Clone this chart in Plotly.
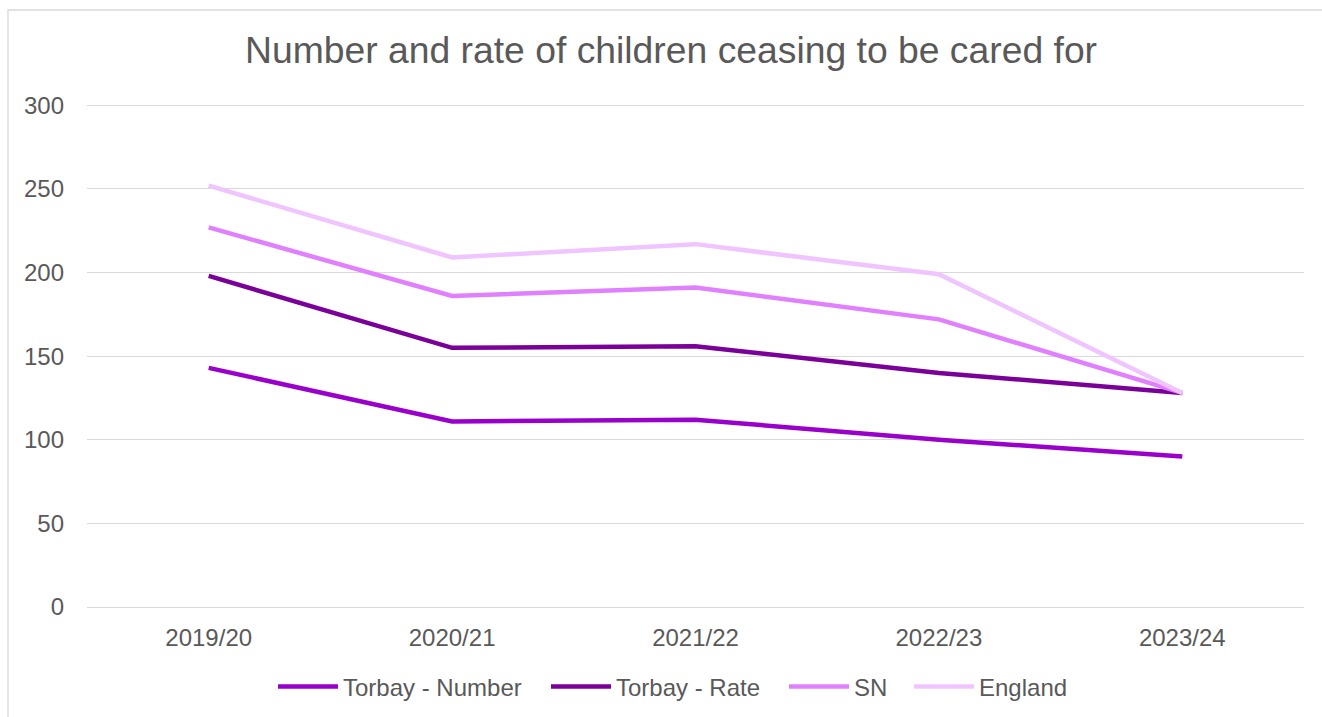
import plotly.graph_objects as go

categories = ["2019/20", "2020/21", "2021/22", "2022/23", "2023/24"]
torbay_number = [143, 111, 112, 100, 90]
torbay_rate = [198, 155, 156, 140, 128]
sn = [227, 186, 191, 172, 128]
england = [252, 209, 217, 199, 128]

series = [
    ("Torbay - Number", torbay_number, "#9900CC"),
    ("Torbay - Rate", torbay_rate, "#7A0099"),
    ("SN", sn, "#E080FF"),
    ("England", england, "#F0C4FF"),
]

W, H = 1322, 717
L, R, T, B = 87, 18, 102, 110
pw = W - L - R
ph = H - T - B

legend_ids = ["legend", "legend2", "legend3", "legend4"]
legend_x = [281, 554, 792, 917]  # pixel left of each legend entry

fig = go.Figure()
for (name, vals, color), lid in zip(series, legend_ids):
    fig.add_trace(go.Scatter(
        x=categories, y=vals, name=name, mode="lines",
        line=dict(color=color, width=4.5),
        legend=lid,
    ))

font_fam = "Liberation Sans, Arial, sans-serif"
legend_common = dict(
    orientation="h", xref="container", yref="container",
    xanchor="left", yanchor="middle", y=1 - 687 / H,
    itemwidth=60, bgcolor="rgba(0,0,0,0)", borderwidth=0,
    font=dict(size=24, color="#595959", family=font_fam),
)
legends = {}
for lid, px in zip(legend_ids, legend_x):
    legends[lid] = dict(legend_common, x=(px - 8) / W)

fig.update_layout(
    width=W, height=H,
    margin=dict(l=L, r=R, t=T, b=B),
    paper_bgcolor="white", plot_bgcolor="white",
    font=dict(family=font_fam, color="#595959", size=24),
    title=dict(text="Number and rate of children ceasing to be cared for",
               x=671 / W, xanchor="center", y=1 - 50 / H, yanchor="middle",
               font=dict(size=37.3, color="#595959", family=font_fam)),
    showlegend=True,
    xaxis=dict(type="category", range=[-0.5, 4.5], showgrid=False,
               showline=False, zeroline=False, ticks="",
               ticklabelstandoff=14,
               tickfont=dict(size=24, color="#595959")),
    yaxis=dict(range=[0, 302], dtick=50, showgrid=True, gridcolor="#D9D9D9",
               gridwidth=1.3, zeroline=True, zerolinecolor="#D9D9D9",
               zerolinewidth=1.3, showline=False, ticks="",
               ticklabelstandoff=22,
               tickfont=dict(size=24, color="#595959")),
    shapes=[dict(type="rect", xref="paper", yref="paper",
                 x0=(8 - L) / pw, x1=(W + 5 - L) / pw,
                 y0=(ph - (H + 5 - T)) / ph, y1=(ph - (10 - T)) / ph,
                 line=dict(color="#D9D9D9", width=1.3), layer="below")],
    **legends,
)

fig.write_html("out.html")
